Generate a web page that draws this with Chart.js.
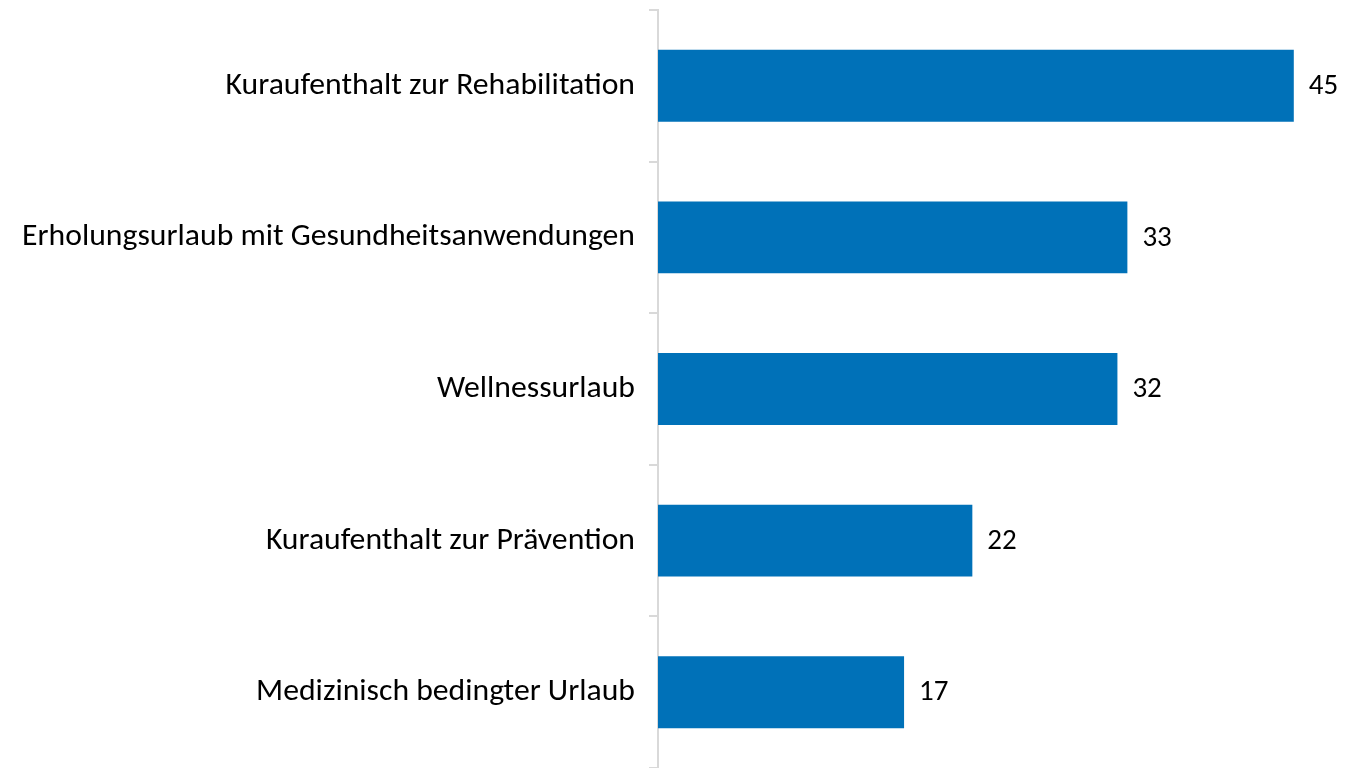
<!DOCTYPE html>
<html>
<head>
<meta charset="utf-8">
<script src="https://cdn.jsdelivr.net/npm/chart.js@4/dist/chart.umd.min.js"></script>
<style>
  html, body { margin: 0; padding: 0; background: #ffffff; }
  #wrap { width: 1345px; height: 768px; position: relative; }
</style>
</head>
<body>
<div id="wrap"><canvas id="c"></canvas></div>
<script>
const categories = [
  "Kuraufenthalt zur Rehabilitation",
  "Erholungsurlaub mit Gesundheitsanwendungen",
  "Wellnessurlaub",
  "Kuraufenthalt zur Prävention",
  "Medizinisch bedingter Urlaub"
];
const values = [44.7, 33.0, 32.3, 22.1, 17.3];
const valueLabels = ["45", "33", "32", "22", "17"];

const FONT = "Carlito, Lato, 'Open Sans', sans-serif";

const valueLabelPlugin = {
  id: 'valueLabels',
  afterDatasetsDraw(chart) {
    const ctx = chart.ctx;
    const meta = chart.getDatasetMeta(0);
    ctx.save();
    ctx.font = "29px " + FONT;
    ctx.fillStyle = "#000000";
    ctx.textAlign = "left";
    ctx.textBaseline = "middle";
    meta.data.forEach((bar, i) => {
      ctx.fillText(valueLabels[i], bar.x + 15, bar.y + 1);
    });
    ctx.restore();
  }
};

new Chart(document.getElementById('c'), {
  type: 'bar',
  data: {
    labels: categories,
    datasets: [{
      data: values,
      backgroundColor: "#0071B8",
      borderWidth: 0,
      categoryPercentage: 1,
      barPercentage: 0.474
    }]
  },
  options: {
    indexAxis: 'y',
    responsive: true,
    maintainAspectRatio: false,
    animation: false,
    layout: { padding: { top: 10, bottom: 0, left: 0, right: 0 } },
    plugins: {
      legend: { display: false },
      tooltip: { enabled: false }
    },
    scales: {
      x: {
        display: false,
        min: 0,
        max: 48.3
      },
      y: {
        afterFit(scale) {
          scale.width = 658;
          scale.paddingTop = 0;
          scale.paddingBottom = 0;
        },
        grid: {
          drawOnChartArea: false,
          drawTicks: true,
          tickLength: 9,
          color: "#d9d9d9",
          lineWidth: 2
        },
        border: { display: true, color: "#d9d9d9", width: 2 },
        ticks: {
          color: "#000000",
          padding: 14,
          font: { family: FONT, size: 31.7 }
        }
      }
    }
  },
  plugins: [valueLabelPlugin]
});
</script>
</body>
</html>
